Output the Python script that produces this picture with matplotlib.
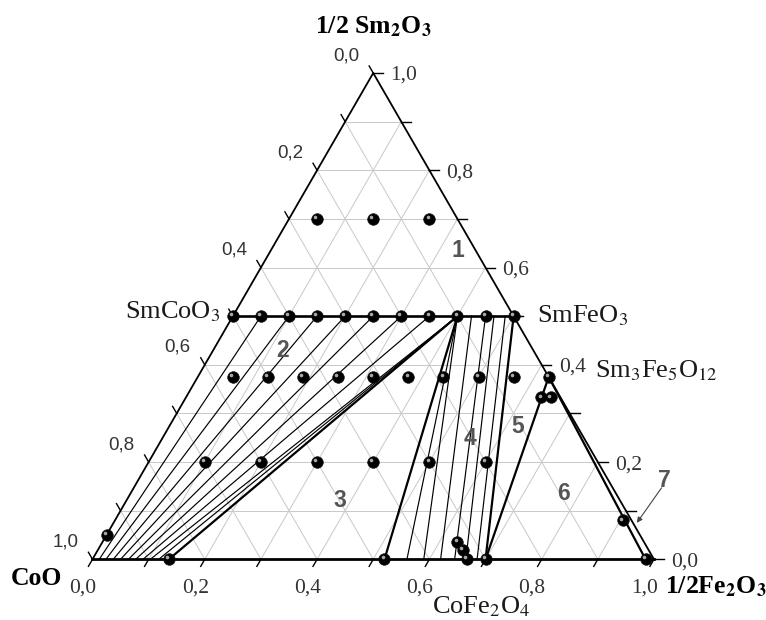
import numpy as np
import matplotlib.pyplot as plt
from matplotlib.transforms import offset_copy

plt.rcParams['font.family'] = ['Liberation Serif', 'DejaVu Serif']
plt.rcParams['mathtext.fontset'] = 'stix'

# compositions as (1/2 Fe2O3 fraction, 1/2 Sm2O3 fraction); CoO is the rest
row70_fe = [0.05, 0.15, 0.25]
row70_sm = [0.7, 0.7, 0.7]
row50_fe = [0.0, 0.05, 0.10, 0.15, 0.20, 0.25, 0.30, 0.35, 0.40, 0.45, 0.50]
row50_sm = [0.5] * 11
row375_fe = [0.0625, 0.125, 0.1875, 0.25, 0.3125, 0.375, 0.4375, 0.5, 0.5625, 0.625]
row375_sm = [0.375] * 10
row20_fe = [0.1, 0.2, 0.3, 0.4, 0.5, 0.6]
row20_sm = [0.2] * 6
other_fe = [0.0, 0.136, 0.52, 0.632, 0.649, 0.667, 0.70, 0.633, 0.65, 0.905, 0.985]
other_sm = [0.05, 0.0, 0.0, 0.036, 0.02, 0.0, 0.0, 0.333, 0.333, 0.08, 0.0]

# tie lines: top end on the SmCoO3-SmFeO3 join, bottom end on the CoO-Fe2O3 side
tie23_top = [0.05, 0.10, 0.15, 0.20, 0.25, 0.30, 0.35, 0.40, 0.40]
tie23_bot = [0.012, 0.024, 0.037, 0.05, 0.064, 0.077, 0.09, 0.103, 0.118]
tie4_top = [0.40, 0.40, 0.425, 0.45, 0.465, 0.485]
tie4_bot = [0.56, 0.59, 0.62, 0.645, 0.665, 0.685]

# phase boundaries: (fe1, sm1, fe2, sm2)
bounds = [
    (0.40, 0.5, 0.136, 0.0),
    (0.40, 0.5, 0.52, 0.0),
    (0.50, 0.5, 0.70, 0.0),
    (0.70, 0.0, 0.625, 0.375),
    (0.625, 0.375, 0.985, 0.0),
]

tick_vals = [0.0, 0.2, 0.4, 0.6, 0.8, 1.0]
tick_text = ['0,0', '0,2', '0,4', '0,6', '0,8', '1,0']

regions = ['1', '2', '3', '4', '5', '6', '7']
region_fe = [0.333, 0.124, 0.381, 0.547, 0.621, 0.770, 0.937]
region_sm = [0.636, 0.430, 0.120, 0.249, 0.274, 0.136, 0.163]

H = np.sqrt(3) / 2


def tern(fe, sm):
    fe = np.asarray(fe, dtype=float)
    sm = np.asarray(sm, dtype=float)
    return fe + sm / 2, sm * H


fig = plt.figure(figsize=(7.66, 6.2), dpi=100)
ax = fig.add_axes([0, 0, 1, 1])
ax.set_xlim(-0.1647, 1.1995)
ax.set_ylim(-0.1081, 0.9961)
ax.axis('off')

# grid
gk = dict(color='#c8c8c8', lw=0.7, zorder=1)
for v in np.arange(0.1, 0.95, 0.1):
    ax.plot(*tern([0, 1 - v], [v, v]), **gk)
    ax.plot(*tern([v, v], [0, 1 - v]), **gk)
    ax.plot(*tern([1 - v, 0], [0, 1 - v]), **gk)

# frame
ax.plot(*tern([0, 0, 1], [0, 1, 0]), color='black', lw=1.3, zorder=3)
ax.plot(*tern([0, 1], [0, 0]), color='black', lw=2.0, zorder=3)

# ticks every 0.1
L = 0.0145
tk = dict(color='black', lw=1.0, zorder=3)
for v in np.arange(0, 1.01, 0.1):
    x, y = tern(v, 0)
    ax.plot([x, x - 0.5 * L], [y, y - H * L], **tk)
    x, y = tern(1 - v, v)
    ax.plot([x, x + 1.2 * L], [y, y], **tk)
    x, y = tern(0, 1 - v)
    ax.plot([x, x - 0.5 * L], [y, y + H * L], **tk)

# tick labels
for v, s in zip(tick_vals, tick_text):
    ax.annotate(s, tern(v, 0), xytext=(-9.5, -33.5), textcoords='offset pixels',
                ha='center', va='baseline', fontsize=15.5, color='#333333')
    ax.annotate(s, tern(1 - v, v), xytext=(17, -7), textcoords='offset pixels',
                ha='left', va='baseline', fontsize=15.5, color='#333333')
    ax.annotate(s, tern(0, 1 - v), xytext=(-27, 13), textcoords='offset pixels',
                ha='center', va='baseline', fontsize=13.5, color='#333333',
                family=['Liberation Sans', 'DejaVu Sans'])

# tie lines
for a, b in zip(tie23_top, tie23_bot):
    ax.plot(*tern([a, b], [0.5, 0]), color='black', lw=0.85, zorder=2)
for a, b in zip(tie4_top, tie4_bot):
    ax.plot(*tern([a, b], [0.5, 0]), color='black', lw=0.85, zorder=2)
for fe1, sm1, fe2, sm2 in bounds:
    ax.plot(*tern([fe1, fe2], [sm1, sm2]), color='black', lw=1.6, zorder=3)
ax.plot(*tern([0, 0.5], [0.5, 0.5]), color='black', lw=1.9, zorder=3)

# sample points drawn as shaded balls
hl = offset_copy(ax.transData, fig=fig, x=-1.3, y=1.3, units='points')
for fe, sm in [(row70_fe, row70_sm), (row50_fe, row50_sm), (row375_fe, row375_sm),
               (row20_fe, row20_sm), (other_fe, other_sm)]:
    x, y = tern(fe, sm)
    ax.plot(x, y, 'o', ms=8.4, mfc='black', mec='#111111', mew=0.4, zorder=5)
    ax.plot(x, y, 'o', ms=2.6, mfc='#a8a8a8', mec='none', zorder=6, transform=hl)

# phase field numbers
for s, fe, sm in zip(regions, region_fe, region_sm):
    ax.text(*tern(fe, sm), s, ha='center', va='center', fontsize=16.5,
            fontweight='bold', color='#555555', family=['Liberation Sans', 'DejaVu Sans'])
ax.annotate('', xy=tern(0.932, 0.075), xytext=tern(0.940, 0.147),
            arrowprops=dict(arrowstyle='-|>', color='#444444', lw=0.8,
                            mutation_scale=8, shrinkA=0, shrinkB=0))

# compound and corner labels
ck = dict(textcoords='offset pixels', fontsize=19, color='#1a1a1a')
ax.annotate(r'SmCoO$_3$', tern(0, 0.5), xytext=(-12, -2), ha='right', va='baseline', **ck)
ax.annotate(r'SmFeO$_3$', tern(0.5, 0.5), xytext=(23, -6), ha='left', va='baseline', **ck)
ax.annotate(r'Sm$_3$Fe$_5$O$_{12}$', tern(0.625, 0.375), xytext=(46, 0),
            ha='left', va='baseline', **ck)
ax.annotate(r'CoFe$_2$O$_4$', tern(0.6667, 0), xytext=(-35, -54),
            ha='left', va='baseline', **ck)

bk = dict(textcoords='offset pixels', fontsize=18.5, fontweight='bold', color='black')
ax.annotate('CoO', tern(0, 0), xytext=(-30, -26), ha='right', va='baseline', **bk)
ax.annotate(r'1/2Fe$_\mathbf{2}$O$_\mathbf{3}$', tern(1, 0), xytext=(11, -34),
            ha='left', va='baseline', **bk)
ax.annotate(r'1/2 Sm$_\mathbf{2}$O$_\mathbf{3}$', tern(0, 1), xytext=(0, 40),
            ha='center', va='baseline', **bk)

fig.savefig('out.png', dpi=100)
